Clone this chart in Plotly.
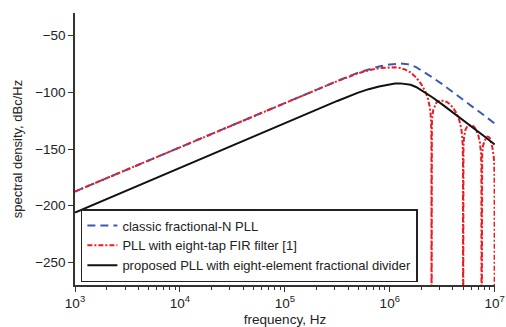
import plotly.graph_objects as go

# frequency grid (Hz) and read-off spectral densities (dBc/Hz)
freq_classic = [1e3, 1e4, 1e5, 3.16e5, 5e5, 6.3e5, 7.9e5, 1e6, 1.12e6, 1.26e6, 1.41e6,
                1.58e6, 1.78e6, 2e6, 2.5e6, 3.16e6, 4e6, 5e6, 6.3e6, 8e6, 1e7]
classic = [-187.5, -148.3, -109.3, -90.0, -82.6, -79.6, -77.2, -75.4, -74.8, -74.6, -74.9,
           -75.8, -77.8, -80.5, -86.3, -92.8, -99.6, -106.2, -113.5, -120.6, -127.5]

freq_fir = [1e3, 1e4, 1e5, 3.16e5, 5e5, 6.3e5, 7.9e5, 1e6, 1.12e6, 1.26e6, 1.41e6, 1.58e6,
            1.78e6, 2e6, 2.1e6, 2.2e6, 2.3e6, 2.4e6, 2.45e6, 2.48e6, 2.495e6, 2.5e6,
            2.505e6, 2.52e6, 2.55e6, 2.6e6, 2.8e6, 3.1e6, 3.5e6, 3.75e6, 4e6, 4.3e6,
            4.6e6, 4.8e6, 4.9e6, 4.96e6, 4.99e6, 5e6, 5.01e6, 5.04e6, 5.1e6, 5.25e6,
            5.5e6, 6e6, 6.25e6, 6.5e6, 7e6, 7.25e6, 7.4e6, 7.47e6, 7.5e6, 7.53e6,
            7.6e6, 7.75e6, 8e6, 8.5e6, 8.75e6, 9e6, 9.5e6, 9.8e6, 9.9e6, 9.97e6, 1e7]
fir = [-187.5, -148.3, -109.3, -90.1, -83.2, -80.5, -78.7, -77.8, -77.9, -78.5, -80.0, -82.5,
       -86.8, -92.9, -96.2, -100.0, -104.8, -112.3, -119.2, -127.7, -145.0, -400.0,
       -145.0, -128.3, -120.7, -115.4, -108.6, -107.2, -108.5, -110.5, -113.5, -117.9,
       -124.6, -132.0, -138.6, -147.0, -165.0, -400.0, -165.0, -147.5, -140.0, -133.3,
       -129.5, -128.6, -129.8, -131.5, -138.3, -145.0, -153.6, -165.0, -400.0, -165.0,
       -154.4, -147.1, -142.8, -139.0, -139.3, -140.5, -148.5, -156.9, -163.2, -178.0, -400.0]

freq_prop = [1e3, 1e4, 1e5, 3.16e5, 5e5, 6.3e5, 7.9e5, 1e6, 1.12e6, 1.26e6, 1.41e6,
             1.58e6, 1.78e6, 2e6, 2.5e6, 3.16e6, 4e6, 5e6, 6.3e6, 8e6, 1e7]
proposed = [-206.0, -166.4, -126.8, -107.6, -100.3, -97.2, -94.9, -93.0, -92.3, -92.1, -92.4,
            -93.3, -95.3, -98.0, -103.9, -110.6, -117.6, -124.4, -131.8, -139.0, -146.0]

x_ticks = [1e3, 1e4, 1e5, 1e6, 1e7]
x_ticktext = ["10<sup>3</sup>", "10<sup>4</sup>", "10<sup>5</sup>", "10<sup>6</sup>", "10<sup>7</sup>"]
x_minor_ticks = [m * 10 ** e for e in range(3, 7) for m in range(2, 10)]
y_ticks = [-50, -100, -150, -200, -250]
y_ticktext = ["\u221250", "\u2212100", "\u2212150", "\u2212200", "\u2212250"]

names = ["classic fractional-N PLL", "PLL with eight-tap FIR filter [1]",
         "proposed PLL with eight-element fractional divider"]

fig = go.Figure()
fig.add_trace(go.Scatter(x=freq_classic, y=classic, mode="lines", name=names[0],
                         line=dict(color="#3a5bb0", width=2, dash="8px,5px")))
fig.add_trace(go.Scatter(x=freq_fir, y=fir, mode="lines", name=names[1],
                         line=dict(color="#ec1c24", width=2, dash="5px,2px,2px,2px")))
fig.add_trace(go.Scatter(x=freq_prop, y=proposed, mode="lines", name=names[2],
                         line=dict(color="#111111", width=2)))

font = "Liberation Sans, Arial, Helvetica, sans-serif"
fig.update_layout(
    width=506, height=327,
    margin=dict(l=75, r=11, t=13, b=42),
    paper_bgcolor="white", plot_bgcolor="white",
    font=dict(family=font, size=13, color="#222222"),
    showlegend=True,
    legend=dict(x=0.014, y=0.011, xanchor="left", yanchor="bottom",
                bordercolor="#222222", borderwidth=1.5, bgcolor="white",
                font=dict(size=13, family=font, color="#222222"),
                itemwidth=30, tracegroupgap=0),
    xaxis=dict(type="log", range=[3, 7.003], tickvals=x_ticks, ticktext=x_ticktext,
               automargin=False,
               showline=True, linecolor="#333333", linewidth=1.5, mirror=False,
               ticks="outside", ticklen=5, tickcolor="#333333", tickwidth=1,
               showgrid=False, zeroline=False,
               minor=dict(ticks="outside", ticklen=3, tickmode="array",
                          tickvals=x_minor_ticks, tickcolor="#333333", tickwidth=1,
                          showgrid=False),
               title=dict(text="frequency, Hz", font=dict(size=13.5), standoff=19),
               tickfont=dict(size=13.5)),
    yaxis=dict(range=[-270, -30], tickvals=y_ticks, ticktext=y_ticktext,
               automargin=False,
               showline=True, linecolor="#333333", linewidth=1.5, mirror=False,
               ticks="outside", ticklen=5, tickcolor="#333333", tickwidth=1,
               showgrid=False, zeroline=False,
               title=dict(text="spectral density, dBc/Hz", font=dict(size=13), standoff=10),
               tickfont=dict(size=13.5)),
)

fig.write_html("out.html")
